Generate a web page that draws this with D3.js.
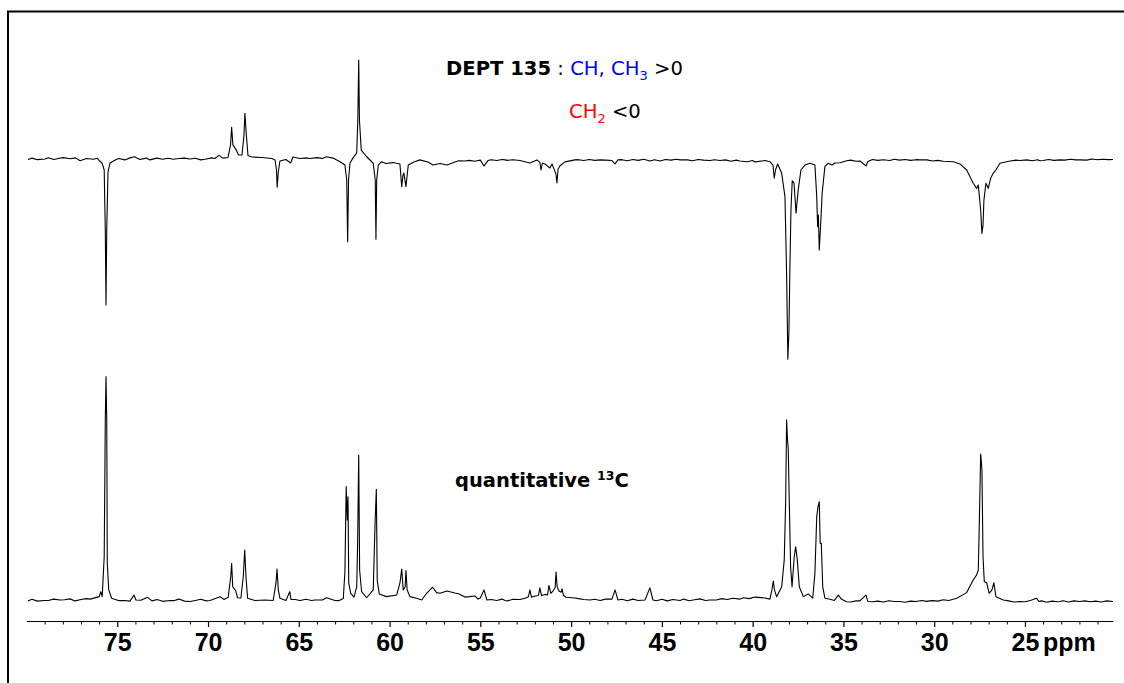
<!DOCTYPE html>
<html>
<head>
<meta charset="utf-8">
<script src="https://cdn.jsdelivr.net/npm/d3@7"></script>
<style>
    body { margin: 0; background: #fff; }
    svg { display: block; }
</style>
</head>
<body>
<svg id="chart" width="1124" height="683"></svg>
<script>
(function() {
    'use strict';

    // DEPT 135 trace: [ppm, intensity] (a.u., tallest 13C line = 100)
    var deptTrace = [[79.92,-0.2],[78.98,0],[77.97,0.6],[77.05,-0.8],[76.32,-0.1],[75.95,-1.1],[75.84,-1.8],[75.72,-4.9],
        [75.66,-31.7],[75.62,-65.2],[75.58,-31.7],[75.51,-5.8],[75.40,-1.8],[75.03,-0.1],[74.58,-0.4],[74.06,1.0],
        [73.75,-0.2],[73.20,-0.4],[72.83,0.4],[71.92,-0.1],[70.99,0],[70.17,-0.1],[69.62,0.2],[69.40,1.6],[69.18,0.4],
        [68.90,0.7],[68.76,6.3],[68.70,14.2],[68.63,6.3],[68.46,4.2],[68.32,1.8],[68.13,1.8],[68.02,10.7],[67.97,20.4],
        [67.89,10.7],[67.80,1.6],[67.58,0.9],[67.03,0.7],[66.48,0.2],[66.31,-0.4],[66.23,-4.9],[66.19,-12.6],[66.13,-5.8],
        [66.04,-0.9],[65.71,-0.2],[65.45,-1.8],[65.32,0.9],[64.94,0.2],[64.39,0.2],[63.83,0.4],[63.47,1.0],[63.12,0.4],
        [62.73,-1.2],[62.46,-2.7],[62.36,-9.4],[62.31,-36.9],[62.26,-9.4],[62.18,-1.8],[62.02,0.4],[61.81,2.7],[61.75,17.4],
        [61.70,44.2],[61.66,17.4],[61.56,4.0],[61.26,1.0],[60.90,-1.9],[60.79,-9.4],[60.75,-35.8],[60.71,-9.4],[60.62,-2.7],
        [60.44,-1.2],[60.20,-2.0],[59.81,-1.6],[59.43,-2.2],[59.33,-12.4],[59.26,-7.1],[59.21,-6.3],[59.10,-12.4],[58.97,-2.7],
        [58.66,-1.3],[58.33,-0.4],[57.89,-1.3],[57.61,-2.7],[57.22,-2.0],[56.84,-2.7],[56.40,-1.3],[55.85,-0.9],[55.13,-0.7],
        [54.80,-3.1],[54.58,-0.7],[53.64,-0.4],[52.82,-0.7],[52.27,-1.8],[51.88,-0.4],[51.72,-1.5],[51.66,-4.9],[51.58,-1.8],
        [51.44,-2.2],[51.17,-4.0],[51.05,-2.2],[50.94,-4.5],[50.83,-7.0],[50.78,-10.7],[50.72,-4.5],[50.61,-3.0],[50.34,-1.3],
        [49.79,-0.4],[48.41,-0.4],[47.75,-0.7],[47.58,-2.2],[47.42,-0.4],[45.66,-0.9],[44.00,-0.4],[42.35,-0.7],[40.70,-0.9],
        [39.87,-1.3],[39.32,-0.7],[39.05,-1.2],[38.88,-2.7],[38.81,-8.6],[38.74,-4.9],[38.62,-2.2],[38.40,-6.4],[38.22,-16.8],
        [38.13,-51.0],[38.06,-89.4],[38.00,-76.3],[37.95,-49.6],[37.89,-22.8],[37.82,-9.7],[37.72,-10.8],[37.61,-24.2],
        [37.49,-13.8],[37.34,-4.9],[37.12,-2.7],[36.84,-1.9],[36.57,-2.7],[36.47,-16.8],[36.42,-30.2],[36.38,-25.0],
        [36.33,-40.6],[36.25,-28.6],[36.17,-15.2],[36.02,-3.4],[35.84,-1.9],[35.63,-2.7],[35.47,-1.8],[35.19,-1.7],[34.82,-0.8],
        [34.09,-0.9],[33.76,-3.1],[33.65,-1.1],[32.44,-0.7],[30.78,-0.4],[28.95,-1.2],[28.58,-2.2],[28.21,-4.9],[27.85,-10.8],
        [27.66,-13.1],[27.57,-11.6],[27.44,-22.8],[27.37,-33.2],[27.31,-29.5],[27.26,-18.3],[27.15,-10.8],[27.02,-13.1],
        [26.89,-8.6],[26.75,-6.4],[26.60,-4.9],[26.38,-1.9],[26.01,-1.2],[25.28,-0.7],[24.17,-0.8],[23.07,-0.4],[21.97,-0.4],
        [20.87,-0.2],[20.15,-0.2]];

    // quantitative 13C trace: [ppm, intensity]
    var carbonTrace = [[79.92,-0.4],[78.98,-0.2],[78.16,0],[77.33,-0.4],[76.50,0.4],[75.99,1.5],[75.91,3.7],[75.83,1.5],
        [75.72,19.3],[75.66,80.4],[75.62,99.7],[75.58,80.4],[75.55,16.4],[75.47,4.5],[75.31,0.8],[74.58,-0.2],[74.08,2.2],
        [73.97,0],[73.33,1.2],[73.09,-0.4],[72.10,-0.2],[70.99,-0.7],[69.89,-0.2],[69.34,1.5],[69.12,0.2],[68.89,1.2],
        [68.75,10.4],[68.70,16.4],[68.64,5.9],[68.48,4.2],[68.37,1.0],[68.19,0.9],[68.06,10.4],[67.98,22.3],[67.91,10.4],
        [67.82,0.8],[67.42,-0.2],[66.86,0],[66.41,-0.2],[66.26,7.5],[66.20,13.8],[66.13,4.5],[66.04,0.8],[65.71,-0.2],
        [65.50,3.7],[65.43,0.3],[64.94,-0.2],[64.11,0],[63.47,1.0],[63.01,-0.2],[62.55,0.7],[62.46,12.6],[62.39,50.6],
        [62.33,35.7],[62.29,46.1],[62.25,7.5],[62.14,3.0],[61.96,1.3],[61.81,5.9],[61.76,25.3],[61.70,64.7],[61.65,13.4],
        [61.54,3.7],[61.26,1.0],[60.90,4.5],[60.80,34.2],[60.73,49.4],[60.68,8.9],[60.57,2.7],[60.16,1.5],[59.61,2.2],
        [59.43,7.5],[59.33,13.8],[59.25,4.5],[59.14,5.9],[59.10,13.1],[59.03,4.5],[58.88,1.5],[58.51,0.8],[58.23,0],
        [57.96,3.0],[57.63,5.7],[57.41,3.3],[57.22,3.0],[56.84,4.0],[56.40,3.1],[55.85,1.3],[55.13,0.4],[54.80,4.5],
        [54.64,0],[53.64,-0.2],[52.82,0.2],[52.54,0.8],[52.35,1.5],[52.27,4.5],[52.18,1.2],[51.99,1.8],[51.80,2.0],
        [51.72,5.4],[51.63,2.0],[51.44,2.5],[51.30,2.2],[51.22,6.5],[51.12,3.0],[51.00,4.0],[50.88,5.5],[50.83,12.5],
        [50.77,6.0],[50.67,4.0],[50.55,3.5],[50.50,5.0],[50.42,2.0],[50.28,1.2],[49.79,0.9],[48.96,0],[47.75,0.4],
        [47.58,4.5],[47.42,0],[45.93,0],[45.66,5.4],[45.49,0],[44.00,-0.2],[42.35,0],[40.70,0.4],[39.87,1.3],[39.32,0.9],
        [39.05,0.4],[38.94,4.5],[38.86,8.5],[38.80,4.5],[38.68,1.5],[38.40,5.9],[38.26,17.9],[38.18,44.6],[38.13,80.4],
        [38.08,71.4],[38.04,67.7],[37.98,43.3],[37.91,14.9],[37.83,5.9],[37.71,19.3],[37.63,23.8],[37.54,17.9],[37.43,5.9],
        [37.21,1.5],[36.94,2.7],[36.69,0.8],[36.57,11.9],[36.47,37.2],[36.40,41.7],[36.33,43.9],[36.28,25.3],[36.22,25.3],
        [36.14,5.9],[36.02,0.8],[35.74,0.3],[35.28,2.2],[35.10,0.3],[34.82,-0.8],[34.09,-0.4],[33.76,2.2],[33.65,-0.7],
        [31.89,-0.7],[30.23,-0.4],[28.76,0.8],[28.21,3.3],[27.85,8.9],[27.66,11.2],[27.57,13.4],[27.50,40.2],[27.44,65.2],
        [27.41,62.5],[27.37,58.0],[27.31,19.3],[27.24,8.2],[27.11,7.7],[26.97,3.0],[26.82,4.5],[26.71,7.7],[26.60,1.5],
        [26.19,0],[25.28,-0.7],[24.36,0.8],[24.23,-0.7],[23.07,-0.7],[21.70,-0.4],[20.15,-0.7]];

    // baseline noise: [first ppm, values every 0.3 ppm]
    var noiseStep = 0.3;
    var deptNoise = [
        [79.7, [0.4, -0.3, 0.2, 0.6, -0.2, 0.3, -0.5, 0.1, 0.5, -0.4, 0.2, -0.3, 0.3]],
        [74.9, [0.2, -0.4, 0.5, 0.1, -0.3, 0.4, -0.2, 0.6, -0.1, 0.3, -0.5, 0.2, 0.4, -0.2, 0.3, -0.4, 0.1, 0.5]],
        [65.2, [0.3, -0.2, 0.5, 0.0, 0.6, 0.2]],
        [56.2, [-0.8, -1.2, -0.6, -1.0, -0.5, -0.9, -0.3, -0.7, -0.2, -0.6, -0.3]],
        [49.6, [-0.3, -0.7, -0.2, -0.6, 0.0, -0.5]],
        [47.2, [-0.3, -0.8, -0.2, -0.6, -0.1, -0.7, -0.3, -0.9, -0.2, -0.5, -0.1, -0.6, -0.4, -0.8, -0.2, -0.5, -0.9,
            -0.3, -0.7, -0.4, -1.0, -0.5, -0.8, -1.2, -0.7]],
        [34.6, [-0.5, -1.0, -0.4, -0.8, -0.2, -0.6, -0.3, -0.7, -0.1, -0.5, -0.2, -0.6, -0.3, -0.8, -0.4, -0.9, -0.6, -1.0]],
        [25.8, [-0.9, -0.5, -1.0, -0.4, -0.8, -0.3, -0.7, -0.2, -0.6, -0.3, -0.5, -0.1, -0.4, -0.2, -0.5, 0.0, -0.3, -0.1, -0.3]]
    ];
    var carbonNoise = [
        [79.7, [0.3, -0.5, 0.2, -0.2, 0.4, -0.4, 0.1, 0.5, -0.3, 0.2, 0.6, 0.1]],
        [74.9, [-0.3, 0.3, -0.5, 0.4, -0.1, 0.5, -0.4, 0.2, -0.6, 0.1, -0.3, 0.4, -0.5, 0.2, -0.2, 0.3, -0.4, 0.6]],
        [65.2, [0.2, -0.4, 0.3, -0.2, 0.5, 0.0, 1.0, 0.2, -0.3]],
        [56.2, [2.8, 2.2, 1.5, 1.8, 0.9, 0.6, 0.2, -0.2, 0.4, -0.4, 0.3, 0.5]],
        [49.6, [0.6, 0.2, -0.3, 0.3, -0.2, 0.4]],
        [47.2, [0.3, -0.3, 0.4, -0.2]],
        [45.3, [-0.3, 0.3, -0.4, 0.2, -0.2, 0.4, -0.3, 0.1, 0.5, -0.2, 0.3, 0.0, 0.6, 0.2, 0.8, 0.4, 1.0, 0.6]],
        [35.5, [-0.2, -0.8, -0.3, -0.9, -0.4, -0.7, -0.2, -0.8, -0.5, -0.9, -0.3, -0.7, -0.4, -1.0, -0.5, -0.7, -0.2,
            -0.6, -0.3, -0.5, 0.1, -0.2]],
        [25.9, [-0.4, -0.9, -0.3, -0.8, -0.2, -0.7, -0.4, -1.0, -0.5, -0.8, -0.3, -0.9, -0.4, -0.7, -0.2, -0.8, -0.5, -0.9, -0.4]]
    ];

    var majorTicks = [75, 70, 65, 60, 55, 50, 45, 40, 35, 30, 25];
    var minorTicks = d3.range(21, 80).filter(function(v) { return v % 5 !== 0; });

    var svg = d3.select("#chart");

    // frame (open on the right and bottom, runs off the picture)
    svg.append("rect")
        .attr("x", 8)
        .attr("y", 11.5)
        .attr("width", 1300)
        .attr("height", 900)
        .attr("fill", "none")
        .attr("stroke", "#000")
        .attr("stroke-width", 2);

    var x = d3.scaleLinear()
        .domain([80, 20.15])
        .range([26.5, 1113]);

    var yDept = d3.scaleLinear().domain([0, 100]).range([159, -65]);
    var yCarbon = d3.scaleLinear().domain([0, 100]).range([600, 376]);

    // put the noise samples in between the read points, skipping any that sit on a line
    function withNoise(points, segments) {
        var all = points.slice();
        segments.forEach(function(seg) {
            seg[1].forEach(function(v, i) {
                var p = +(seg[0] - i * noiseStep).toFixed(2);
                var near = points.some(function(t) { return Math.abs(t[0] - p) < 0.12; });
                if (!near) all.push([p, v]);
            });
        });
        return all.sort(function(a, b) { return b[0] - a[0]; });
    }

    function trace(points, y) {
        return d3.line()
            .x(function(d) { return x(d[0]); })
            .y(function(d) { return y(d[1]); })(points);
    }

    svg.append("path")
        .attr("d", trace(withNoise(deptTrace, deptNoise), yDept))
        .attr("fill", "none")
        .attr("stroke", "#000")
        .attr("stroke-width", 1.1)
        .attr("stroke-linejoin", "round");

    svg.append("path")
        .attr("d", trace(withNoise(carbonTrace, carbonNoise), yCarbon))
        .attr("fill", "none")
        .attr("stroke", "#000")
        .attr("stroke-width", 1.1)
        .attr("stroke-linejoin", "round");

    // ppm axis
    var axisY = 621;
    var axisFont = "'Liberation Sans', Arial, sans-serif";
    var major = svg.append("g")
        .attr("transform", "translate(0," + axisY + ")")
        .call(d3.axisBottom(x)
            .tickValues(majorTicks)
            .tickSize(6)
            .tickPadding(6)
            .tickSizeOuter(0)
            .tickFormat(d3.format("d")));
    major.select(".domain").attr("stroke-width", 1.2);
    major.selectAll("line").attr("stroke-width", 1.2);
    major.selectAll("text")
        .attr("font-family", axisFont)
        .attr("font-size", 25)
        .attr("font-weight", "bold")
        .attr("fill", "#000");

    var minor = svg.append("g")
        .attr("transform", "translate(0," + axisY + ")")
        .call(d3.axisBottom(x)
            .tickValues(minorTicks)
            .tickSize(3.5)
            .tickFormat(""));
    minor.select(".domain").remove();
    minor.selectAll("line").attr("stroke-width", 1);

    svg.append("text")
        .attr("x", x(25) + 18)
        .attr("y", 651)
        .attr("font-family", axisFont)
        .attr("font-size", 25)
        .attr("font-weight", "bold")
        .text("ppm");

    // labels
    var labelFont = "'DejaVu Sans', Verdana, sans-serif";
    var lab = svg.append("text")
        .attr("x", 446)
        .attr("y", 75)
        .attr("font-family", labelFont)
        .attr("font-size", 19.6);
    lab.append("tspan").attr("font-weight", "bold").text("DEPT 135");
    lab.append("tspan").text(" : ");
    lab.append("tspan").attr("fill", "#0000ff").text("CH, CH");
    lab.append("tspan").attr("fill", "#0000ff").attr("font-size", 13).attr("dy", 5).text("3");
    lab.append("tspan").attr("dy", -5).text(" >0");

    var lab2 = svg.append("text")
        .attr("x", 569)
        .attr("y", 118)
        .attr("font-family", labelFont)
        .attr("font-size", 19.6);
    lab2.append("tspan").attr("fill", "#ff0000").text("CH");
    lab2.append("tspan").attr("fill", "#ff0000").attr("font-size", 13).attr("dy", 5).text("2");
    lab2.append("tspan").attr("dy", -5).text(" <0");

    var lab3 = svg.append("text")
        .attr("x", 455)
        .attr("y", 487)
        .attr("font-family", labelFont)
        .attr("font-size", 19.5)
        .attr("font-weight", "bold");
    lab3.append("tspan").text("quantitative ");
    lab3.append("tspan").attr("font-size", 12.5).attr("dy", -7).text("13");
    lab3.append("tspan").attr("dy", 7).text("C");
})();
</script>
</body>
</html>
